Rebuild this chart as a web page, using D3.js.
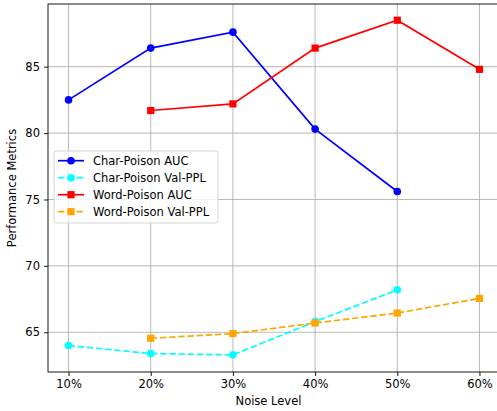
<!DOCTYPE html>
<html>
<head>
<meta charset="utf-8">
<script src="https://cdn.jsdelivr.net/npm/d3@7"></script>
<style>
  body { margin: 0; background: #fff; }
  svg { display: block; font-family: "DejaVu Sans", sans-serif; }
</style>
</head>
<body>
<div id="chart"></div>
<script>
var noiseLevels = ["10%", "20%", "30%", "40%", "50%", "60%"];
var yTicks = [65, 70, 75, 80, 85];
var charAuc = [82.5, 86.4, 87.6, 80.3, 75.6, null];
var charPpl = [64.0, 63.4, 63.3, 65.8, 68.2, null];
var wordAuc = [null, 81.7, 82.2, 86.4, 88.5, 84.8];
var wordPpl = [null, 64.55, 64.9, 65.7, 66.45, 67.55];

var series = [
  { name: "Char-Poison AUC", values: charAuc, color: "#0000ff", dash: null, shape: "circle" },
  { name: "Char-Poison Val-PPL", values: charPpl, color: "#00ffff", dash: "6.4,2.8", shape: "circle" },
  { name: "Word-Poison AUC", values: wordAuc, color: "#ff0000", dash: null, shape: "square" },
  { name: "Word-Poison Val-PPL", values: wordPpl, color: "#ffa500", dash: "6.4,2.8", shape: "square" }
];

var width = 497, height = 411;
var margin = { left: 48, top: 4, right: -3, bottom: 39 };
var fs = 11.5;

var svg = d3.select("#chart").append("svg").attr("width", width).attr("height", height);

var x = d3.scaleLinear().domain([-0.25, 5.25]).range([margin.left, width - margin.right]);
var y = d3.scaleLinear().domain([62.01, 89.72]).range([height - margin.bottom, margin.top]);

var plotL = margin.left, plotR = width - margin.right, plotT = margin.top, plotB = height - margin.bottom;

// grid
var grid = svg.append("g");
noiseLevels.forEach(function(d, i) {
  grid.append("line").attr("x1", x(i)).attr("x2", x(i)).attr("y1", plotT).attr("y2", plotB)
    .attr("stroke", "#b0b0b0").attr("stroke-width", 0.9);
});
yTicks.forEach(function(v) {
  grid.append("line").attr("x1", plotL).attr("x2", plotR).attr("y1", y(v)).attr("y2", y(v))
    .attr("stroke", "#b0b0b0").attr("stroke-width", 0.9);
});

// axes
var xAxis = d3.axisBottom(x).tickValues(d3.range(noiseLevels.length))
  .tickFormat(function(i) { return noiseLevels[i]; }).tickSizeOuter(0).tickSize(4).tickPadding(4);
var gx = svg.append("g").attr("transform", "translate(0," + plotB + ")").call(xAxis);
var yAxis = d3.axisLeft(y).tickValues(yTicks).tickSizeOuter(0).tickSize(4).tickPadding(4);
var gy = svg.append("g").attr("transform", "translate(" + plotL + ",0)").call(yAxis);
[gx, gy].forEach(function(g) {
  g.selectAll("text").attr("font-size", fs).attr("fill", "#000").attr("font-family", "DejaVu Sans");
  g.selectAll("line").attr("stroke", "#000").attr("stroke-width", 0.9);
  g.select(".domain").remove();
});

// spines
svg.append("rect").attr("x", plotL).attr("y", plotT).attr("width", plotR - plotL).attr("height", plotB - plotT)
  .attr("fill", "none").attr("stroke", "#000").attr("stroke-width", 0.9);

// lines
var line = d3.line().defined(function(d) { return d != null; })
  .x(function(d, i) { return x(i); }).y(function(d) { return y(d); });

series.forEach(function(s) {
  var g = svg.append("g");
  g.append("path").datum(s.values).attr("d", line).attr("fill", "none")
    .attr("stroke", s.color).attr("stroke-width", 1.7).attr("stroke-dasharray", s.dash);
  var pts = s.values.map(function(v, i) { return { v: v, i: i }; }).filter(function(p) { return p.v != null; });
  if (s.shape === "circle") {
    g.selectAll("circle").data(pts).enter().append("circle")
      .attr("cx", function(p) { return x(p.i); }).attr("cy", function(p) { return y(p.v); })
      .attr("r", 3.8).attr("fill", s.color);
  } else {
    g.selectAll("rect").data(pts).enter().append("rect")
      .attr("x", function(p) { return x(p.i) - 3.6; }).attr("y", function(p) { return y(p.v) - 3.6; })
      .attr("width", 7.2).attr("height", 7.2).attr("fill", s.color);
  }
});

// axis labels
svg.append("text").attr("x", (plotL + 489) / 2).attr("y", 405).attr("text-anchor", "middle")
  .attr("font-size", fs).text("Noise Level");
svg.append("text").attr("transform", "translate(16," + ((plotT + plotB) / 2) + ") rotate(-90)")
  .attr("text-anchor", "middle").attr("font-size", fs).text("Performance Metrics");

// legend
var lg = svg.append("g").attr("transform", "translate(54,151)");
lg.append("rect").attr("width", 164).attr("height", 72).attr("rx", 2.5)
  .attr("fill", "#fff").attr("fill-opacity", 0.8).attr("stroke", "#d0d0d0").attr("stroke-width", 0.9);
series.forEach(function(s, k) {
  var cy = 9.7 + k * 17;
  lg.append("line").attr("x1", 4).attr("x2", 30).attr("y1", cy).attr("y2", cy)
    .attr("stroke", s.color).attr("stroke-width", 1.7).attr("stroke-dasharray", s.dash);
  if (s.shape === "circle") {
    lg.append("circle").attr("cx", 17).attr("cy", cy).attr("r", 3.8).attr("fill", s.color);
  } else {
    lg.append("rect").attr("x", 13.4).attr("y", cy - 3.6).attr("width", 7.2).attr("height", 7.2).attr("fill", s.color);
  }
  lg.append("text").attr("x", 39).attr("y", cy).attr("dy", "0.35em").attr("font-size", fs).text(s.name);
});
</script>
</body>
</html>
